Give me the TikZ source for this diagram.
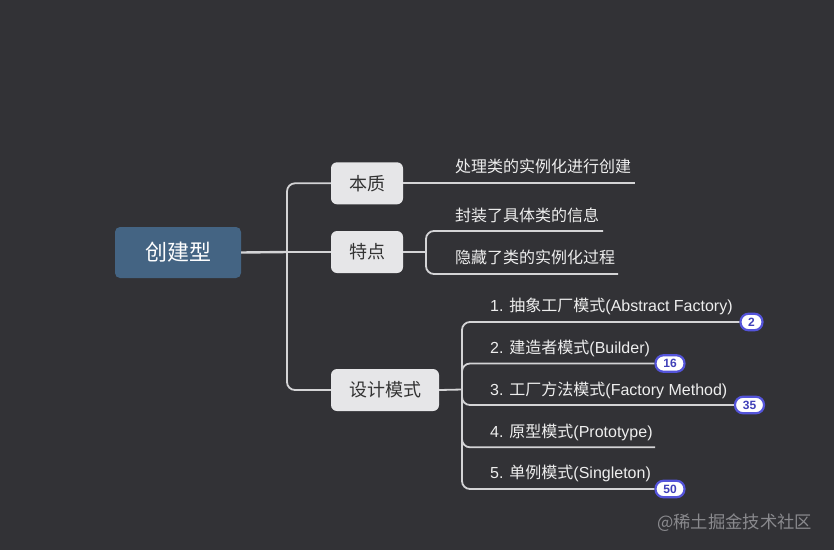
\documentclass[tikz,border=0pt]{standalone}
\usepackage{fontspec}
\setmainfont{Liberation Sans}
\newfontfamily\cjk{Noto Sans CJK SC}
\definecolor{bg}{HTML}{323236}
\definecolor{rootfill}{HTML}{446483}
\definecolor{topicfill}{HTML}{E6E6E8}
\definecolor{topictext}{HTML}{333333}
\definecolor{linec}{HTML}{D4D4D6}
\definecolor{leaftext}{HTML}{EEEEEE}
\definecolor{badgeline}{HTML}{5454DA}
\definecolor{badgetext}{HTML}{4040B8}
\definecolor{wmc}{HTML}{8A8A8E}
\begin{document}
\begin{tikzpicture}[x=1pt,y=-1pt,
  rootbox/.style={fill=rootfill, rounded corners=5pt, minimum width=126pt, minimum height=51pt, inner sep=0pt,
    text=white, font=\cjk\fontsize{22}{26}\selectfont},
  topic/.style={fill=topicfill, rounded corners=6pt, minimum height=42pt, inner sep=0pt,
    text=topictext, font=\cjk\fontsize{18}{22}\selectfont},
  leaf/.style={anchor=base west, inner sep=0pt, text=leaftext, font=\fontsize{16}{19}\selectfont},
  conn/.style={draw=linec, line width=1.8pt},
  badge/.style={draw=badgeline, fill=white, line width=2.2pt, rounded corners=8pt,
    minimum height=16.5pt, inner sep=0pt, text=badgetext, font=\bfseries\fontsize{12}{14}\selectfont},
  wmark/.style={anchor=base west, inner sep=0pt, text=wmc, font=\cjk\fontsize{17.3}{20}\selectfont}
]
\fill[bg] (0,0) rectangle (834,550);
\useasboundingbox (0,0) rectangle (834,550);

% main topics
\node[rootbox] (root) at (178,252.5) {创建型};
\node[topic, minimum width=72pt] (benzhi) at (367,183.3) {本质};
\node[topic, minimum width=72pt] (tedian) at (367,252) {特点};
\node[topic, minimum width=108pt] (sheji) at (385,390) {设计模式};

% leaves
\node[leaf] (l1) at (455,172.7) {\cjk 处理类的实例化进行创建};
\node[leaf] (l2) at (455,221.7) {\cjk 封装了具体类的信息};
\node[leaf] (l3) at (455,263.3) {\cjk 隐藏了类的实例化过程};
\node[leaf] (d1) at (490,311) {1. {\cjk 抽象工厂模式}(Abstract Factory)};
\node[leaf] (d2) at (490,353) {2. {\cjk 建造者模式}(Builder)};
\node[leaf] (d3) at (490,395.3) {3. {\cjk 工厂方法模式}(Factory Method)};
\node[leaf] (d4) at (490,437) {4. {\cjk 原型模式}(Prototype)};
\node[leaf] (d5) at (490,478.7) {5. {\cjk 单例模式}(Singleton)};

% badges
\node[badge, minimum width=22pt] (b1) at (751.5,322) {2};
\node[badge, minimum width=29pt] (b2) at (670,363.5) {16};
\node[badge, minimum width=29pt] (b3) at (749.5,405) {35};
\node[badge, minimum width=29pt] (b5) at (670,489) {50};

% junctions and ends
\coordinate (jt) at (287,252);
\coordinate (jf) at (426,252);
\coordinate (jd) at (462,389.5);
\coordinate (e1) at (635,183.3);
\coordinate (e2) at (603,231);
\coordinate (e3) at (618,274);
\coordinate (e4) at (655,447.3);

% connectors
\draw[conn, line width=2.4pt] (root.east) -- (jt);
\draw[conn] (jt) -- (tedian.west);
\draw[conn, rounded corners=8pt] (jt) |- (benzhi.west);
\draw[conn, rounded corners=8pt] (jt) |- (sheji.west);

\draw[conn] (benzhi.east) -- (e1);

\draw[conn] (tedian.east) -- (jf);
\draw[conn, rounded corners=8pt] (jf) |- (e2);
\draw[conn, rounded corners=8pt] (jf) |- (e3);

\draw[conn] (sheji.east) -- (jd);
\draw[conn, rounded corners=8pt] (jd) |- (b1.west);
\draw[conn, rounded corners=8pt] (jd) |- (b2.west);
\draw[conn, rounded corners=8pt] (jd) |- (b3.west);
\draw[conn, rounded corners=8pt] (jd) |- (e4);
\draw[conn, rounded corners=8pt] (jd) |- (b5.west);

% watermark
\node[wmark] (wm) at (657,528) {@稀土掘金技术社区};
\end{tikzpicture}
\end{document}
